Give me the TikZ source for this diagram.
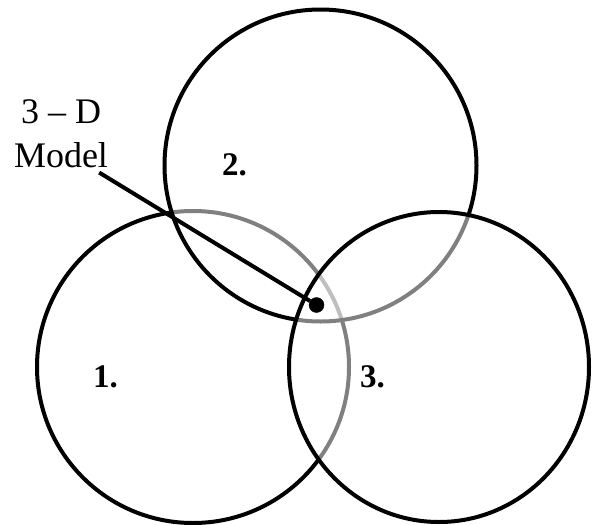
\documentclass[tikz,border=0pt]{standalone}
\usepackage{fontspec}
\setmainfont{Liberation Serif}
\usepackage{tikz}
\usetikzlibrary{positioning,calc}

\begin{document}
\begin{tikzpicture}[
    x=1pt,y=-1pt,
    ring/.style={draw,line width=4pt},
    veil/.style={ring,fill=white,fill opacity=0.5},
    num/.style={font=\fontsize{33}{40}\selectfont\bfseries,inner sep=0pt,anchor=base west},
    note/.style={font=\fontsize{36}{44}\selectfont,inner sep=0pt,anchor=base},
]
    \useasboundingbox (0,0) rectangle (592,525);

    \coordinate (c1) at (193,367);
    \coordinate (c2) at (320.5,165.5);
    \coordinate (c3) at (439,367);

    % the three spheres, later ones veil the earlier lines
    \path[ring] (c1) circle[radius=156pt];
    \path[veil] (c2) circle[radius=156pt];
    \path[veil] (c3) ellipse[x radius=150pt,y radius=155pt];

    \node[num] (one) at (93,387) {1.};
    \node[num] (two) at (222,175) {2.};
    \node[num] (three) at (360,387) {3.};

    \node[note] (title) at (61,123) {3 -- D};
    \node[note] (model) at (61,167) {Model};
    \node[draw,circle,fill=black,minimum size=15pt,inner sep=0pt] (dot) at (316.5,305) {};

    \draw[line width=4pt] ([xshift=-9pt,yshift=-5pt]model.south east) -- (dot);
\end{tikzpicture}
\end{document}
